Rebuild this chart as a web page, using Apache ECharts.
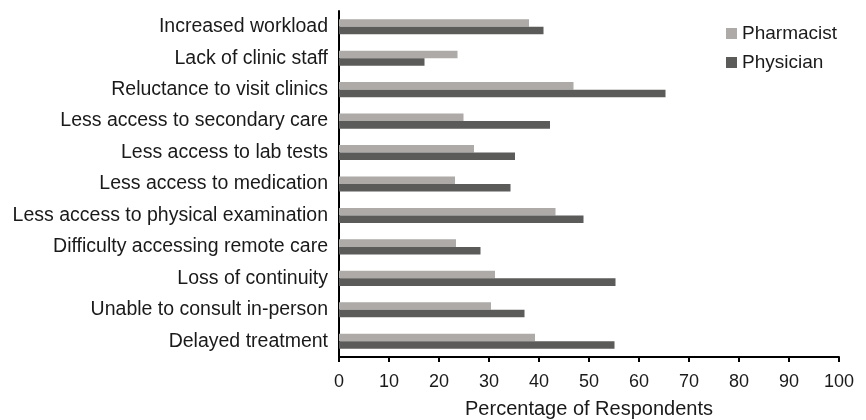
<!DOCTYPE html>
<html>
<head>
<meta charset="utf-8">
<script src="https://cdn.jsdelivr.net/npm/echarts@6/dist/echarts.min.js"></script>
<style>html,body{margin:0;padding:0;background:#fff}#c{width:866px;height:420px}</style>
</head>
<body>
<div id="c"></div>
<script>
var categories = [
  "Increased workload",
  "Lack of clinic staff",
  "Reluctance to visit clinics",
  "Less access to secondary care",
  "Less access to lab tests",
  "Less access to medication",
  "Less access to physical examination",
  "Difficulty accessing remote care",
  "Loss of continuity",
  "Unable to consult in-person",
  "Delayed treatment"
];
var pharmacist = [38.0, 23.7, 46.9, 24.9, 27.0, 23.2, 43.3, 23.4, 31.2, 30.4, 39.2];
var physician  = [40.9, 17.1, 65.3, 42.2, 35.2, 34.3, 48.9, 28.3, 55.3, 37.1, 55.1];
var xTicks = [0, 10, 20, 30, 40, 50, 60, 70, 80, 90, 100];

var font = "Liberation Sans, Arial, sans-serif";
var chart = echarts.init(document.getElementById('c'), null, {renderer: 'canvas'});
chart.setOption({
  animation: false,
  textStyle: {fontFamily: font},
  grid: {left: 339, right: 27, top: 11, bottom: 63, containLabel: false, outerBoundsMode: 'none'},
  legend: {
    orient: 'vertical',
    left: 721, top: 19,
    itemWidth: 11, itemHeight: 11, itemGap: 10,
    icon: 'rect',
    textStyle: {fontFamily: font, fontSize: 19, color: '#1a1a1a', lineHeight: 19},
    data: ['Pharmacist', 'Physician']
  },
  xAxis: {
    type: 'value', min: xTicks[0], max: xTicks[xTicks.length-1], interval: 10,
    name: 'Percentage of Respondents', nameLocation: 'middle', nameGap: 42,
    nameTextStyle: {fontFamily: font, fontSize: 20, color: '#1a1a1a'},
    axisLine: {show: true, lineStyle: {color: '#000', width: 2}},
    axisTick: {show: true, length: 5, lineStyle: {color: '#000', width: 2}},
    axisLabel: {fontFamily: font, fontSize: 18, color: '#1a1a1a', margin: 16},
    splitLine: {show: false}
  },
  yAxis: {
    type: 'category', data: categories, inverse: true,
    axisLine: {show: true, lineStyle: {color: '#000', width: 2}},
    axisTick: {show: false},
    axisLabel: {fontFamily: font, fontSize: 19.5, color: '#1a1a1a', margin: 11}
  },
  series: [
    {name: 'Pharmacist', type: 'bar', data: pharmacist, barGap: '0%', barCategoryGap: '52%',
     itemStyle: {color: '#adaaa8'}},
    {name: 'Physician', type: 'bar', data: physician, barGap: '0%', barCategoryGap: '52%',
     itemStyle: {color: '#5b5b5a'}}
  ]
});
</script>
</body>
</html>
